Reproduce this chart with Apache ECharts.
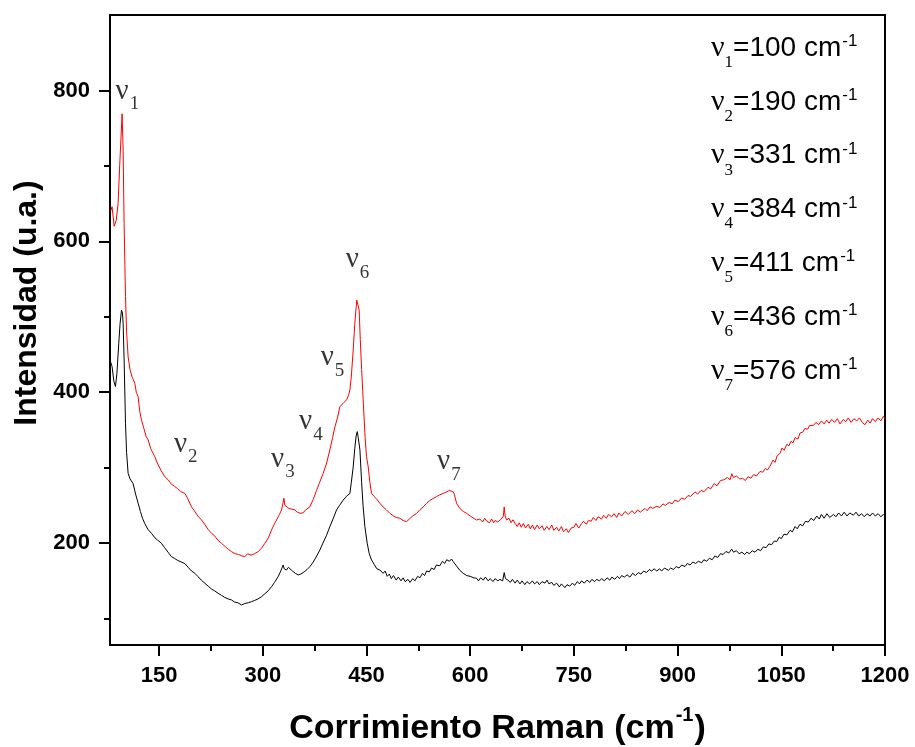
<!DOCTYPE html>
<html><head><meta charset="utf-8">
<script src="https://cdn.jsdelivr.net/npm/echarts@6/dist/echarts.min.js"></script>
<style>html,body{margin:0;padding:0;background:#fff}#c{width:915px;height:747px}</style>
</head><body><div id="c"></div>
<script>
// Raman shift (cm-1), intensity (a.u.) – upper (red) spectrum
const redSpectrum = [[80,640],[82,646],[85,620],[88,628],[90.7,650],[93,700],[96.5,769],[98,720],[99.4,624],[101.4,527],[103,480],[105.2,447],[108,430],[111,420],[114.9,412],[117,400],[119.7,394],[122,375],[124.6,363],[128,352],[131,342],[134.1,337],[138,325],[143.8,314.6],[148,305],[153,296],[158.3,288],[163,284],[168,278],[172.8,275],[177,272],[182,268],[187.2,266],[191,260],[196.9,248],[201,243],[206,236],[211.4,230.7],[216,225],[221,218],[225.9,213],[230,210],[235,204],[240.3,199.8],[245,196],[250,192],[254.8,188.7],[260,186],[265,185],[270,183],[274,182],[278,186],[283,184],[288,186],[293.3,188.7],[298,193],[303,199.8],[308,207],[312.7,217.5],[316,224],[319.9,230.7],[324,238],[327.1,244],[329,252],[330.5,259.5],[332,250],[334.4,248],[338,246],[342,245],[346.4,244],[350,241],[354,239.6],[358,240],[362,244],[368,248],[373,258],[377.8,270],[382,280],[387.4,292.6],[392,305],[397,323.5],[401,340],[404.3,354],[408,366],[411.5,381],[416,385],[421.2,390],[424,396],[426,403],[428,420],[430.8,456],[433,490],[434.7,509],[436,522],[437.1,524.6],[438.3,520],[439.4,509],[441,470],[443,430],[445.2,390],[448,340],[450,315],[452.5,301],[455,280],[457.3,266],[461,262],[465,258],[469.4,252.8],[474,248],[479,244],[483.8,239.6],[489,236],[493,234],[498.3,233],[503,230],[508,228.5],[512,232],[517,236],[522.5,239.6],[527,244],[532,248],[536.9,252.8],[541,256],[546,259],[551.4,261.6],[556,264],[561,266],[565.9,268],[570,270],[575.4,268],[577,265],[580.3,252.8],[585,246],[590,242],[594.8,239.6],[600,236],[605,233],[609.3,230.7],[614,232],[618,228],[621,233],[624,229],[628,227],[631,232],[634,227],[636,230],[640,228],[645,232],[648,236],[649.2,248],[650.5,236],[652.7,230.7],[656,233],[659,227],[662,231],[665,226],[668,222],[671,227],[674,221],[677,226],[680,220],[684,225],[687,219],[690,224],[693,218],[697,224],[700,219],[704,223],[707,217],[711,222],[714,218],[718,224],[721,217],[725,221],[728,216],[732,222],[735,215],[739,219],[742,214],[746,220],[750,221],[753,226],[757,220],[761.2,226],[764,229],[768,225],[771,230],[775,229],[778,234],[782,230],[785,235],[790,232],[793,237],[797,233],[800,238],[804.6,235],[808,239],[812,234],[815,240],[819,236],[824,242],[828.7,238],[834,243],[838,239],[842,244],[846,241],[852.8,246],[856,243],[860,248],[864,246],[870,249],[874,247],[879,252],[882,250],[888,254],[892,252],[896,257],[901,255],[906,260],[910,258],[915,263],[919,262],[925.2,268],[929,265],[934,270],[938,268],[944,274],[948,272],[953,279],[957,276],[962,283],[967,284],[972,287],[976,284],[978.3,292],[981,287],[985,289],[990,285],[994,286],[998,283],[1002,288],[1006,286],[1010,291],[1014,289],[1019.2,295],[1023,294],[1027,299],[1030,297],[1033.7,302],[1036,304],[1038,310],[1041,307],[1044,316],[1048.2,319],[1051,326],[1054,323],[1058,331],[1061,329],[1064,335],[1067,333],[1070,340],[1074,338],[1077.1,346],[1081,347],[1084,352],[1088,351],[1091,356],[1096.4,356],[1100,360],[1104,357],[1108,362],[1112,358],[1115.7,363],[1119,359],[1123,364],[1127,360],[1131,365],[1135,358],[1139.8,364],[1143,361],[1147,366],[1151,360],[1155,365],[1159.1,362],[1163,366],[1167,360],[1171,357],[1175,363],[1178.4,359],[1182,365],[1186,361],[1190,366],[1194,362],[1197.6,368],[1200,365]];

// lower (black) spectrum
const blackSpectrum = [[80,440],[82,434],[84.5,415],[86.9,407.5],[89,425],[91.7,465],[93.5,490],[95.6,509],[97,505],[98,491.5],[99.5,440],[101.4,359],[103,320],[105.2,292.6],[108,285],[112.4,279],[116,265],[119.7,253],[123,242],[126,233],[129.3,226],[134,218],[139,213],[144,207],[148,204],[153.5,199.8],[158,194],[163,188],[167.9,182],[172,180],[177,177],[182,175],[187.2,173],[192,168],[197,163],[201.7,160],[206,156],[211,151],[216.2,146.8],[221,143],[226,139],[230,137],[235.4,133.5],[240,131],[245,128],[250,126],[254.8,124.7],[259,122],[264,121],[269.3,118],[274,120],[279,121],[283.7,122.4],[288,124],[293,126],[298.2,129],[303,133],[308,137],[312.7,142.3],[317,148],[322.2,155.5],[326,163],[329.5,171],[331,166],[334.4,164.4],[337,168],[339.1,166.7],[343,163],[347,160],[351.2,157.8],[355,159],[359.9,162],[364,165],[368,168.8],[373,175],[378,183],[382.6,191],[387,200],[392,210],[397,221.8],[402,233],[406.7,244],[411,250],[416.3,257],[421,262],[426,266],[428,280],[430.8,301],[433,325],[435,342],[436.7,347.8],[438,340],[440.5,323.5],[443,280],[445,250],[447.7,221.8],[451,200],[454,186],[457.3,177.7],[461,172],[465,166],[469.4,164.4],[474,160],[477,163],[480,156],[483,159],[486,153],[489,157],[493,151],[496,155],[500,150],[503,154],[506,149],[510,152],[513,148],[517,153],[520,150],[524,156],[527.3,154],[531,160],[534,157],[537,163],[541,162],[544,167],[548,165],[551,171],[556,170],[560,176],[563,173],[566,178],[570,176],[573,179],[575.4,175.5],[580,170],[585,164],[589.9,160],[595,157],[600,156],[605,154],[609.3,153.4],[612,150],[615,154],[619,151],[622,155],[626,150],[629,153],[633,149],[636,153],[640,150],[643,152],[647,150],[649.2,161],[651,153],[654.6,151],[658,148],[661,152],[665,147],[668,151],[672,146],[675,150],[679,145],[682,149],[686,146],[690,150],[693,146],[697,149],[700,145],[704,149],[708.1,147],[711,151],[714,146],[718,148],[721,144],[725,147],[729,142],[732,146],[737,141],[740,145],[744,143],[748,147],[751,144],[755,149],[758,146],[761.2,150],[765,147],[769,151],[773,148],[776,152],[780,149],[783,152],[787,150],[790.1,153],[794,150],[798,154],[802,151],[805,155],[809,152],[813,156],[816,153],[819,157],[823,155],[827,158],[831,155],[835,160],[839,157],[843.1,161],[847,159],[851,163],[855,161],[859,165],[862.5,163],[866,166],[870,163],[874,166],[877,163],[881,167],[886.6,164],[890,167],[894,165],[898,169],[902,167],[906,171],[910.7,169],[914,173],[918,171],[922,175],[926,173],[930,176],[934.9,174],[938,178],[942,176],[946,180],[950,178],[954,183],[958,181],[962,186],[966,185],[970,189],[974,187],[978.3,192],[981,188],[985,190],[989,186],[993,188],[997,185],[1000,188],[1004,186],[1008,190],[1012,188],[1016,192],[1020,190],[1024,195],[1028,194],[1032,199],[1036,198],[1040,203],[1043.3,202],[1047,208],[1050,206],[1054,212],[1058,211],[1062.7,217],[1066,215],[1070,222],[1073,219],[1077,225],[1081,223],[1085,229],[1089,228],[1093,233],[1097,230],[1101.3,236],[1105,232],[1108,238],[1112,233],[1116,239],[1120,234],[1125.4,238],[1129,235],[1133,240],[1137,236],[1141,241],[1145,236],[1149,240],[1154.3,237],[1158,241],[1162,236],[1166,239],[1170,235],[1174,239],[1178.4,236],[1182,240],[1186,236],[1190,239],[1194,235],[1197.6,238],[1200,236]];

const xTickLabels = [150, 300, 450, 600, 750, 900, 1050, 1200];
const xMinorTicks = [225, 375, 525, 675, 825, 975, 1125];
const yTickLabels = [200, 400, 600, 800];
const yMinorTicks = [100, 300, 500, 700];

const peakIndex = ['1', '2', '3', '4', '5', '6', '7'];
const peakShift = [100, 190, 331, 384, 411, 436, 576];
// where each ν label sits, in data units (shift, intensity)
const peakLabelAt = [[87.2, 818], [171.6, 350], [312, 330], [352.5, 380], [383.9, 465], [420, 595], [552.2, 327]];

const X_MIN = 79, X_MAX = 1200, Y_MIN = 65, Y_MAX = 900;

const chart = echarts.init(document.getElementById('c'), null, { renderer: 'canvas' });

const axisBlack = { color: '#000', width: 2 };
const sans = 'Liberation Sans, Arial, sans-serif';
const serif = 'Liberation Serif, Times New Roman, serif';

const legendText = peakIndex.map((k, i) => `{n|ν}{s|${k}}{t|=${peakShift[i]} cm}{p|-1}`).join('\n');
const LH = 53.8;
const plain = (v) => String(v);

const option = {
  animation: false,
  backgroundColor: '#fff',
  grid: { left: 110, right: 30, top: 15, bottom: 102, show: true, borderColor: '#000', borderWidth: 2, backgroundColor: 'transparent', outerBoundsMode: 'none' },
  xAxis: [
    {
      type: 'value', min: X_MIN, max: X_MAX, position: 'bottom',
      axisLine: { show: true, lineStyle: axisBlack },
      axisTick: { show: true, inside: false, length: 11, lineStyle: axisBlack, customValues: xTickLabels },
      axisLabel: { show: true, customValues: xTickLabels, formatter: plain, margin: 20, color: '#000', fontSize: 22, fontWeight: 'bold', fontFamily: sans },
      splitLine: { show: false },
      name: '{m|Corrimiento Raman (cm}{p|-1}{m|)}',
      nameLocation: 'middle', nameGap: 60,
      nameTextStyle: {
        rich: {
          m: { fontSize: 34, fontWeight: 'bold', fontFamily: sans, color: '#000', padding: [7, 0, 0, 0], verticalAlign: 'top', lineHeight: 46 },
          p: { fontSize: 20, fontWeight: 'bold', fontFamily: sans, color: '#000', padding: [0, 1, 0, 1], verticalAlign: 'top', lineHeight: 46 }
        }
      }
    },
    {
      type: 'value', min: X_MIN, max: X_MAX, position: 'bottom', gridIndex: 0,
      axisLine: { show: false },
      axisTick: { show: true, inside: false, length: 6, lineStyle: axisBlack, customValues: xMinorTicks },
      axisLabel: { show: false },
      splitLine: { show: false }
    }
  ],
  yAxis: [
    {
      type: 'value', min: Y_MIN, max: Y_MAX, position: 'left',
      axisLine: { show: true, lineStyle: axisBlack },
      axisTick: { show: true, inside: false, length: 11, lineStyle: axisBlack, customValues: yTickLabels },
      axisLabel: { show: true, customValues: yTickLabels, formatter: plain, margin: 20, color: '#000', fontSize: 22, fontWeight: 'bold', fontFamily: sans },
      splitLine: { show: false }
    },
    {
      type: 'value', min: Y_MIN, max: Y_MAX, position: 'left', gridIndex: 0,
      axisLine: { show: false },
      axisTick: { show: true, inside: false, length: 6, lineStyle: axisBlack, customValues: yMinorTicks },
      axisLabel: { show: false },
      splitLine: { show: false }
    }
  ],
  series: [
    { type: 'line', name: 'rojo', data: redSpectrum, showSymbol: false, symbol: 'none', lineStyle: { color: '#ff0000', width: 1 }, itemStyle: { color: '#ff0000' }, z: 3 },
    { type: 'line', name: 'negro', data: blackSpectrum, showSymbol: false, symbol: 'none', lineStyle: { color: '#000', width: 1 }, itemStyle: { color: '#000' }, z: 4 },
    {
      type: 'scatter', name: 'picos', symbolSize: 0.1, itemStyle: { color: 'rgba(0,0,0,0)' }, z: 5, silent: true,
      data: peakLabelAt.map((p, i) => ({ value: p, name: peakIndex[i] })),
      label: {
        show: true, position: [0, 0], align: 'left', verticalAlign: 'top',
        formatter: (p) => `{n|ν}{s|${p.name}}`,
        rich: {
          n: { fontFamily: serif, fontSize: 29, color: '#000', verticalAlign: 'top', lineHeight: 40 },
          s: { fontFamily: serif, fontSize: 19, color: '#000', verticalAlign: 'top', lineHeight: 40, padding: [18, 0, 0, 1] }
        }
      }
    }
  ],
  graphic: [
    {
      type: 'text', left: 711, top: 33, z: 10,
      style: {
        text: legendText,
        rich: {
          n: { fontFamily: serif, fontSize: 30, fill: '#000', verticalAlign: 'top', lineHeight: LH },
          s: { fontFamily: serif, fontSize: 17, fill: '#000', verticalAlign: 'top', lineHeight: LH, padding: [21, 0, 0, 0] },
          t: { fontFamily: sans, fontSize: 28, fill: '#000', verticalAlign: 'top', lineHeight: LH, padding: [1, 0, 0, 0] },
          p: { fontFamily: sans, fontSize: 17, fill: '#000', verticalAlign: 'top', lineHeight: LH, padding: [0, 0, 0, 1] }
        }
      }
    },
    {
      type: 'text', x: 27, y: 303, rotation: Math.PI / 2, z: 10,
      style: { text: 'Intensidad (u.a.)', font: 'bold 32px ' + sans, fill: '#000', align: 'center', verticalAlign: 'middle' }
    }
  ]
};
chart.setOption(option);
</script>
</body></html>
